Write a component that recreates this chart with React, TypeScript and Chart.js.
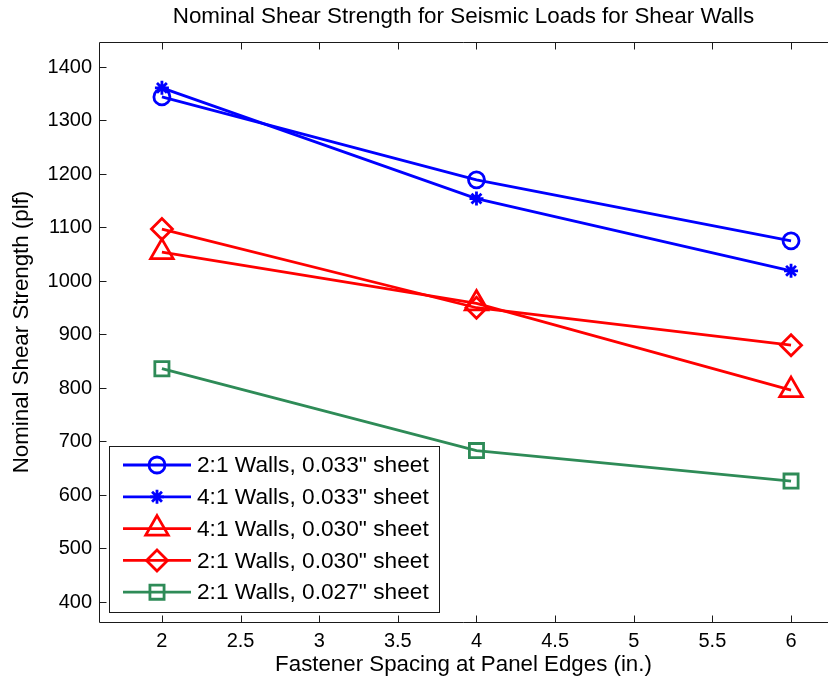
import React, { useEffect, useRef } from 'react';
import { Chart, registerables } from 'chart.js';
import { drawPoint } from 'chart.js/helpers';

Chart.register(...registerables);

// ---- data ----
const spacing = [2, 4, 6];
const walls21_033 = [1344, 1189, 1075];
const walls41_033 = [1361, 1154, 1019];
const walls41_030 = [1054, 958, 796];
const walls21_030 = [1097, 950, 880];
const walls21_027 = [836, 683, 626];
const seriesLabels = [
  '2:1 Walls, 0.033" sheet',
  '4:1 Walls, 0.033" sheet',
  '4:1 Walls, 0.030" sheet',
  '2:1 Walls, 0.030" sheet',
  '2:1 Walls, 0.027" sheet',
];
const xTicks = [2, 2.5, 3, 3.5, 4, 4.5, 5, 5.5, 6];
const yTicks = [400, 500, 600, 700, 800, 900, 1000, 1100, 1200, 1300, 1400];
const titleText = 'Nominal Shear Strength for Seismic Loads for Shear Walls';
const xTitle = 'Fastener Spacing at Panel Edges (in.)';
const yTitle = 'Nominal Shear Strength (plf)';

const FONT = '"Liberation Sans", Arial, Helvetica, sans-serif';

const seriesStyles = [
  { color: '#0000FF', pointStyle: 'circle', radius: 8 },
  { color: '#0000FF', pointStyle: 'star', radius: 7 },
  { color: '#FF0000', pointStyle: 'triangle', radius: 13 },
  { color: '#FF0000', pointStyle: 'rectRot', radius: 10.5 },
  { color: '#2E8B57', pointStyle: 'rect', radius: 10 },
];
const seriesValues = [walls21_033, walls41_033, walls41_030, walls21_030, walls21_027];

const LW = 2.8;

const framePlugin = {
  id: 'frame',
  afterDatasetsDraw(chart: any) {
    const { ctx, chartArea, scales } = chart;
    const L = Math.round(chartArea.left) + 0.5;
    const T = Math.round(chartArea.top) + 0.5;
    const B = Math.round(chartArea.bottom) + 0.5;
    const W = chart.width;
    const tl = 7;
    ctx.save();
    ctx.strokeStyle = '#1a1a1a';
    ctx.lineWidth = 1;
    ctx.beginPath();
    ctx.moveTo(W, T); ctx.lineTo(L, T); ctx.lineTo(L, B); ctx.lineTo(W, B);
    for (const v of xTicks) {
      const px = Math.round(scales.x.getPixelForValue(v)) + 0.5;
      ctx.moveTo(px, B); ctx.lineTo(px, B - tl);
      ctx.moveTo(px, T); ctx.lineTo(px, T + tl);
    }
    for (const v of yTicks) {
      const py = Math.round(scales.y.getPixelForValue(v)) + 0.5;
      ctx.moveTo(L, py); ctx.lineTo(L + tl, py);
    }
    ctx.stroke();
    ctx.restore();
  },
  afterDraw(chart: any) {
    const { ctx, chartArea } = chart;
    ctx.save();
    // titles
    ctx.fillStyle = '#000';
    ctx.textAlign = 'center';
    ctx.textBaseline = 'middle';
    const cx = (chartArea.left + chartArea.right) / 2;
    ctx.font = `22.4px ${FONT}`;
    ctx.fillText(titleText, cx, 17);
    ctx.font = `22.3px ${FONT}`;
    ctx.fillText(xTitle, cx, 665);
    ctx.save();
    ctx.translate(22, (chartArea.top + chartArea.bottom) / 2);
    ctx.rotate(-Math.PI / 2);
    ctx.fillText(yTitle, 0, 0);
    ctx.restore();

    // legend
    const bx = 109.5, by = 446.5, bw = 330, bh = 166;
    ctx.fillStyle = '#ffffff';
    ctx.fillRect(bx, by, bw, bh);
    ctx.strokeStyle = '#1a1a1a';
    ctx.lineWidth = 1;
    ctx.strokeRect(bx, by, bw, bh);
    chart.data.datasets.forEach((ds: any, i: number) => {
      const yy = 465 + i * 31.8;
      ctx.strokeStyle = ds.borderColor;
      ctx.lineWidth = LW;
      ctx.beginPath();
      ctx.moveTo(123, yy);
      ctx.lineTo(191, yy);
      ctx.stroke();
      ctx.fillStyle = 'rgba(0,0,0,0)';
      drawPoint(ctx, { pointStyle: ds.pointStyle, radius: ds.pointRadius, rotation: 0, borderWidth: LW }, 157, yy);
      ctx.fillStyle = '#000';
      ctx.textAlign = 'left';
      ctx.textBaseline = 'middle';
      ctx.font = `22.7px ${FONT}`;
      ctx.fillText(ds.label, 197, yy + 1);
    });
    ctx.restore();
  },
};

export default function App() {
  const ref = useRef<HTMLCanvasElement | null>(null);
  useEffect(() => {
    if (!ref.current) return;
    const datasets = seriesValues.map((vals, i) => ({
      label: seriesLabels[i],
      data: spacing.map((x, j) => ({ x, y: vals[j] })),
      borderColor: seriesStyles[i].color,
      backgroundColor: 'rgba(0,0,0,0)',
      borderWidth: LW,
      pointStyle: seriesStyles[i].pointStyle,
      pointRadius: seriesStyles[i].radius,
      pointHoverRadius: seriesStyles[i].radius,
      pointBorderWidth: LW,
      pointBorderColor: seriesStyles[i].color,
      pointBackgroundColor: 'rgba(0,0,0,0)',
      tension: 0,
      clip: false,
    }));
    const chart = new Chart(ref.current, {
      type: 'line',
      data: { datasets } as any,
      plugins: [framePlugin],
      options: {
        animation: false,
        responsive: false,
        maintainAspectRatio: false,
        layout: { autoPadding: false, padding: { top: 42, left: 0, right: 0, bottom: 0 } },
        plugins: { legend: { display: false }, title: { display: false }, tooltip: { enabled: false } },
        scales: {
          x: {
            type: 'linear',
            min: 1.6,
            max: 6.235,
            grid: { display: false, drawTicks: false },
            border: { display: false },
            afterBuildTicks: (s: any) => { s.ticks = xTicks.map((v) => ({ value: v })); },
            afterFit: (s: any) => { s.height = 62; s.paddingLeft = 0; s.paddingRight = 0; },
            ticks: {
              autoSkip: false,
              maxRotation: 0,
              padding: 7,
              color: '#000',
              font: { family: FONT, size: 20 },
              callback: (v: any) => String(v),
            },
          },
          y: {
            type: 'linear',
            min: 362.6,
            max: 1446.7,
            grid: { display: false, drawTicks: false },
            border: { display: false },
            afterBuildTicks: (s: any) => { s.ticks = yTicks.map((v) => ({ value: v })); },
            afterFit: (s: any) => { s.width = 99; s.paddingTop = 0; s.paddingBottom = 0; },
            ticks: {
              autoSkip: false,
              padding: 7,
              color: '#000',
              font: { family: FONT, size: 20 },
              callback: (v: any) => String(v),
            },
          },
        },
      } as any,
    });
    return () => chart.destroy();
  }, []);
  return (
    <div style={{ position: 'fixed', left: 0, top: 0, width: 828, height: 684, background: '#fff' }}>
      <canvas ref={ref} width={828} height={684} style={{ display: 'block' }} />
    </div>
  );
}
